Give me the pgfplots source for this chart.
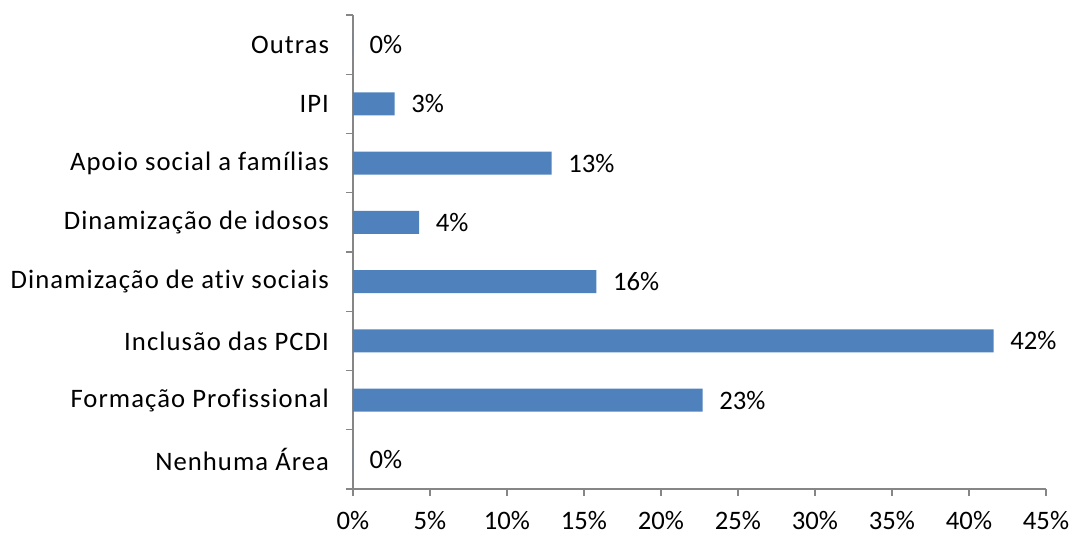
\documentclass[border=0pt]{standalone}
\usepackage{pgfplots}
\pgfplotsset{compat=1.18}
\usepackage{fontspec}
\setmainfont{Carlito}
\newfontfamily\catfont[LetterSpace=4,Ligatures={NoCommon}]{Carlito}
\definecolor{barblue}{HTML}{4F81BD}
\definecolor{axisgray}{HTML}{868686}
\begin{document}
\begin{tikzpicture}
\useasboundingbox (-264.75pt,-35.25pt) rectangle (540pt,366.75pt);
\begin{axis}[
  at={(0,0)}, anchor=south west,
  scale only axis,
  width=519.75pt, height=355.5pt,
  xbar, bar width=17.25pt,
  xmin=0, xmax=45,
  ymin=-0.5, ymax=7.5,
  axis x line*=bottom, axis y line*=left,
  axis line style={axisgray, line width=0.9pt, -},
  xtick={0,5,...,45},
  xticklabels={0\%,5\%,10\%,15\%,20\%,25\%,30\%,35\%,40\%,45\%},
  ytick={-0.5,0.5,...,7.5},
  yticklabels={},
  extra y ticks={0,1,2,3,4,5,6,7},
  extra y tick labels={Nenhuma Área,Formação Profissional,Inclusão das PCDI,Dinamização de ativ sociais,Dinamização de idosos,Apoio social a famílias,IPI,Outras},
  extra y tick style={major tick length=0pt, yticklabel style={xshift=-14.5pt, font=\catfont\fontsize{20}{24}\selectfont}},
  tick align=outside,
  major tick length=5.25pt,
  tick style={axisgray, line width=0.9pt},
  ticklabel style={font=\fontsize{20}{24}\selectfont, text=black},
  xticklabel style={yshift=-8pt},
  nodes near coords={\pgfmathprintnumber[fixed,precision=0,assume math mode=true]{\pgfplotspointmeta}\%},
  point meta=x,
  every node near coord/.append style={font=\fontsize{20}{24}\selectfont, text=black, xshift=9pt},
  clip=false,
]
\addplot[fill=barblue, draw=none] coordinates {
  (0,0) (22.7,1) (41.6,2) (15.8,3) (4.3,4) (12.9,5) (2.7,6) (0,7)
};
\end{axis}
\end{tikzpicture}
\end{document}
